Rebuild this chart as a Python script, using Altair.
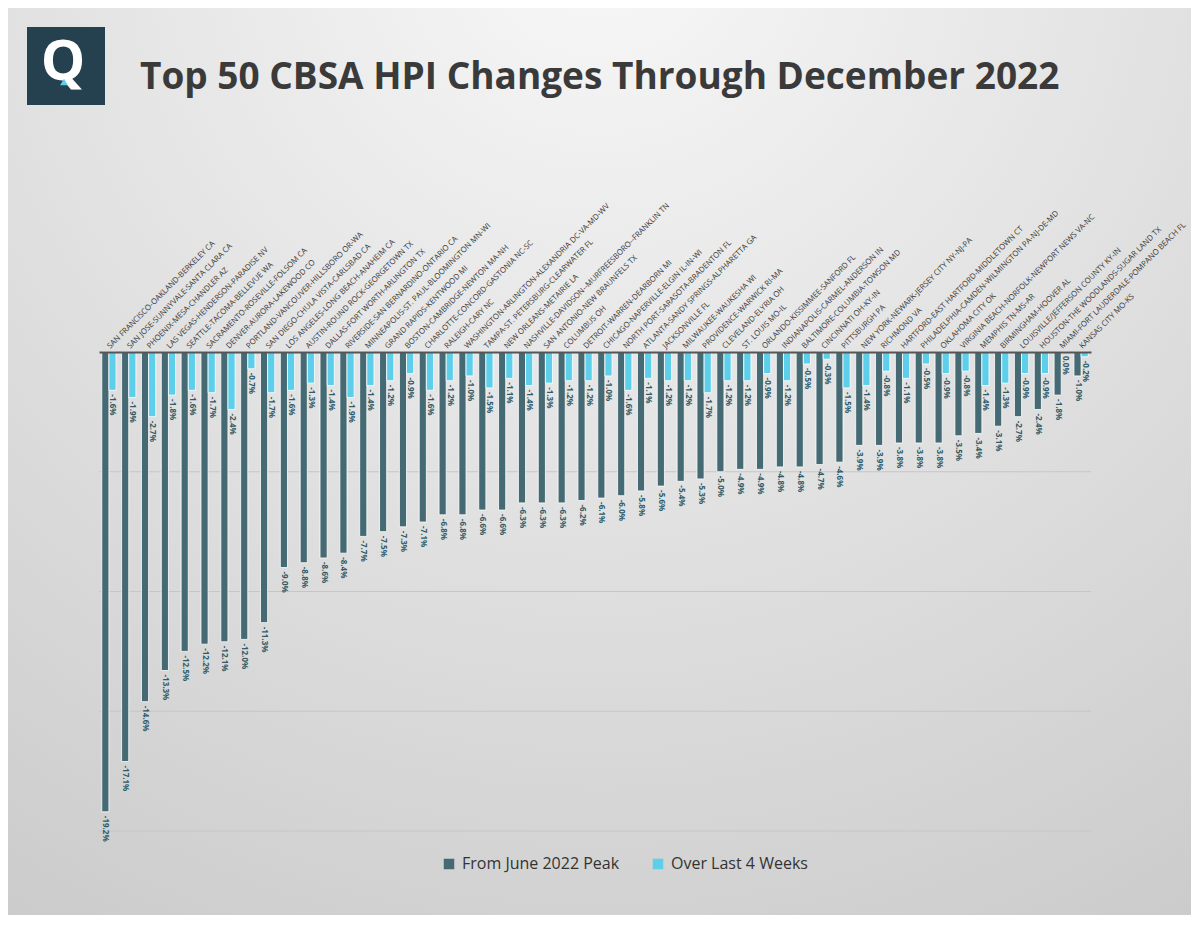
import altair as alt
import pandas as pd

categories = [
    "SAN FRANCISCO-OAKLAND-BERKELEY CA",
    "SAN JOSE-SUNNYVALE-SANTA CLARA CA",
    "PHOENIX-MESA-CHANDLER AZ",
    "LAS VEGAS-HENDERSON-PARADISE NV",
    "SEATTLE-TACOMA-BELLEVUE WA",
    "SACRAMENTO-ROSEVILLE-FOLSOM CA",
    "DENVER-AURORA-LAKEWOOD CO",
    "PORTLAND-VANCOUVER-HILLSBORO OR-WA",
    "SAN DIEGO-CHULA VISTA-CARLSBAD CA",
    "LOS ANGELES-LONG BEACH-ANAHEIM CA",
    "AUSTIN-ROUND ROCK-GEORGETOWN TX",
    "DALLAS-FORT WORTH-ARLINGTON TX",
    "RIVERSIDE-SAN BERNARDINO-ONTARIO CA",
    "MINNEAPOLIS-ST. PAUL-BLOOMINGTON MN-WI",
    "GRAND RAPIDS-KENTWOOD MI",
    "BOSTON-CAMBRIDGE-NEWTON MA-NH",
    "CHARLOTTE-CONCORD-GASTONIA NC-SC",
    "RALEIGH-CARY NC",
    "WASHINGTON-ARLINGTON-ALEXANDRIA DC-VA-MD-WV",
    "TAMPA-ST. PETERSBURG-CLEARWATER FL",
    "NEW ORLEANS-METAIRIE LA",
    "NASHVILLE-DAVIDSON--MURFREESBORO--FRANKLIN TN",
    "SAN ANTONIO-NEW BRAUNFELS TX",
    "COLUMBUS OH",
    "DETROIT-WARREN-DEARBORN MI",
    "CHICAGO-NAPERVILLE-ELGIN IL-IN-WI",
    "NORTH PORT-SARASOTA-BRADENTON FL",
    "ATLANTA-SANDY SPRINGS-ALPHARETTA GA",
    "JACKSONVILLE FL",
    "MILWAUKEE-WAUKESHA WI",
    "PROVIDENCE-WARWICK RI-MA",
    "CLEVELAND-ELYRIA OH",
    "ST. LOUIS MO-IL",
    "ORLANDO-KISSIMMEE-SANFORD FL",
    "INDIANAPOLIS-CARMEL-ANDERSON IN",
    "BALTIMORE-COLUMBIA-TOWSON MD",
    "CINCINNATI OH-KY-IN",
    "PITTSBURGH PA",
    "NEW YORK-NEWARK-JERSEY CITY NY-NJ-PA",
    "RICHMOND VA",
    "HARTFORD-EAST HARTFORD-MIDDLETOWN CT",
    "PHILADELPHIA-CAMDEN-WILMINGTON PA-NJ-DE-MD",
    "OKLAHOMA CITY OK",
    "VIRGINIA BEACH-NORFOLK-NEWPORT NEWS VA-NC",
    "MEMPHIS TN-MS-AR",
    "BIRMINGHAM-HOOVER AL",
    "LOUISVILLE/JEFFERSON COUNTY KY-IN",
    "HOUSTON-THE WOODLANDS-SUGAR LAND TX",
    "MIAMI-FORT LAUDERDALE-POMPANO BEACH FL",
    "KANSAS CITY MO-KS",
]

from_peak = [
    -19.2, -17.1, -14.6, -13.3, -12.5, -12.2, -12.1, -12.0, -11.3, -9.0,
    -8.8, -8.6, -8.4, -7.7, -7.5, -7.3, -7.1, -6.8, -6.8, -6.6,
    -6.6, -6.3, -6.3, -6.3, -6.2, -6.1, -6.0, -5.8, -5.6, -5.4,
    -5.3, -5.0, -4.9, -4.9, -4.8, -4.8, -4.7, -4.6, -3.9, -3.9,
    -3.8, -3.8, -3.8, -3.5, -3.4, -3.1, -2.7, -2.4, -1.8, -1.0,
]

last_4_weeks = [
    -1.6, -1.9, -2.7, -1.8, -1.6, -1.7, -2.4, -0.7, -1.7, -1.6,
    -1.3, -1.4, -1.9, -1.4, -1.2, -0.9, -1.6, -1.2, -1.0, -1.5,
    -1.1, -1.4, -1.3, -1.2, -1.2, -1.0, -1.6, -1.1, -1.2, -1.2,
    -1.7, -1.2, -1.2, -0.9, -1.2, -0.5, -0.3, -1.5, -1.4, -0.8,
    -1.1, -0.5, -0.9, -0.8, -1.4, -1.3, -0.9, -0.9, 0.0, -0.2,
]

series_names = ["From June 2022 Peak", "Over Last 4 Weeks"]
series_colors = ["#456A74", "#5DCFEB"]
title_text = "Top 50 CBSA HPI Changes Through December 2022"
grid_values = [-5, -10, -15, -20]

rows = []
for c, a, b in zip(categories, from_peak, last_4_weeks):
    rows.append({"cbsa": c, "series": series_names[0], "value": a})
    rows.append({"cbsa": c, "series": series_names[1], "value": b})
df = pd.DataFrame(rows)
grid_df = pd.DataFrame({"g": grid_values})

W, H = 992, 479
PL, PT, PR, PB = 91, 344, 100, 84

y_scale = alt.Scale(domain=[-20, 0], nice=False)

base = alt.Chart(df).encode(
    x=alt.X(
        "cbsa:N",
        sort=categories,
        scale=alt.Scale(paddingInner=0.28, paddingOuter=0.14),
        axis=alt.Axis(
            orient="top", title=None, labelAngle=315, labelAlign="left",
            labelBaseline="middle", labelFont="Open Sans", labelFontSize=7.8,
            labelColor="#3A3A3A", ticks=False, labelPadding=5,
            domainColor="#555555", domainWidth=2, labelLimit=0, grid=False,
            zindex=2,
        ),
    ),
    xOffset=alt.XOffset("series:N", sort=series_names),
    y=alt.Y(
        "value:Q",
        scale=y_scale,
        axis=None,
    ),
)

bars = base.mark_bar(stroke="white", strokeWidth=0.8).encode(
    color=alt.Color(
        "series:N",
        sort=series_names,
        scale=alt.Scale(domain=series_names, range=series_colors),
        legend=alt.Legend(
            title=None, orient="none", direction="horizontal",
            legendX=342, legendY=504, symbolType="square", symbolSize=110,
            symbolStrokeWidth=0, labelFont="Open Sans", labelFontSize=16,
            labelColor="#333333", columnPadding=30, labelOffset=5, padding=0,
        ),
    )
)

labels = base.transform_calculate(
    label="replace(format(datum.value, '.1f'), '\u2212', '-') + '%'"
).mark_text(
    angle=90, align="left", baseline="middle", dx=4,
    font="Open Sans", fontSize=8, fontWeight="bold", color="#2F5A66",
).encode(text="label:N")

grid = alt.Chart(grid_df).mark_rule(color="#C6C6C6", strokeWidth=1).encode(
    y=alt.Y("g:Q", scale=y_scale, axis=None),
)

one = pd.DataFrame({"t": [title_text]})

background = alt.Chart(one).mark_rect(
    fill={
        "gradient": "radial",
        "x1": 0.5, "y1": 0.05, "r1": 0,
        "x2": 0.5, "y2": 0.05, "r2": 1.0,
        "stops": [
            {"offset": 0, "color": "#F8F8F8"},
            {"offset": 1, "color": "#CACACA"},
        ],
    }
).encode(
    x=alt.value(-PL), x2=alt.value(W + PR),
    y=alt.value(-PT), y2=alt.value(H + PB),
)

logo_box = alt.Chart(one).mark_rect(color="#25404F").encode(
    x=alt.value(-72), x2=alt.value(6), y=alt.value(-325), y2=alt.value(-247),
)
logo_q = alt.Chart(one).mark_text(
    text="Q", font="Open Sans", fontWeight="bold", fontSize=56,
    color="white", align="center", baseline="middle",
).encode(x=alt.value(-36), y=alt.value(-289))
logo_tri = alt.Chart(one).mark_point(
    shape="triangle-up", filled=True, color="#5DCFEB", size=60, opacity=1,
).encode(x=alt.value(-35), y=alt.value(-270))

title = alt.Chart(one).mark_text(
    font="Open Sans", fontWeight="bold", fontSize=37,
    color="#3A3A3A", align="left", baseline="alphabetic",
).encode(text="t:N", x=alt.value(41), y=alt.value(-263))

chart = alt.layer(
    background, grid, logo_box, logo_q, logo_tri, title, bars, labels
).properties(
    width=W, height=H,
    padding={"left": PL, "top": PT, "right": PR, "bottom": PB},
    autosize=alt.AutoSizeParams(type="none"),
).configure(
    background="#DDDDDD",
).configure_view(stroke=None)

chart.save("out.html", embed_options={"renderer": "svg", "actions": False})
